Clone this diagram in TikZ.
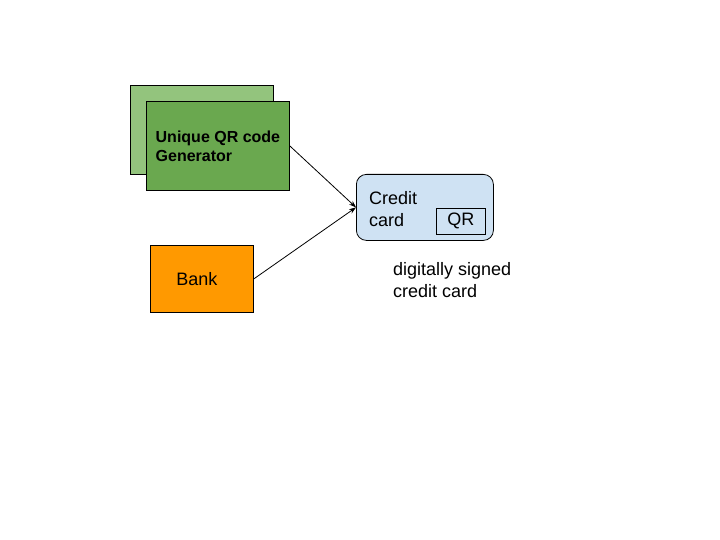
\documentclass[tikz,border=0pt]{standalone}
\usepackage{fontspec}
\setmainfont{Liberation Sans}
\usetikzlibrary{arrows.meta, positioning}
\definecolor{gengreen}{HTML}{6AA84F}
\definecolor{genlight}{HTML}{93C47D}
\definecolor{bankorange}{HTML}{FF9900}
\definecolor{cardblue}{HTML}{CFE2F3}
\tikzset{
  genbox/.style={
    rectangle, draw=black, line width=0.8pt, fill=gengreen,
    minimum width=143pt, minimum height=89pt, anchor=north west,
    align=left, font=\fontsize{16}{19}\selectfont\bfseries
  },
  bankbox/.style={
    rectangle, draw=black, line width=0.8pt, fill=bankorange,
    minimum width=103pt, minimum height=67pt, anchor=north west,
    font=\fontsize{18}{22}\selectfont
  },
  cardbox/.style={
    rectangle, rounded corners=10pt, draw=black, line width=0.8pt, fill=cardblue,
    minimum width=137pt, minimum height=66pt, anchor=north west
  },
  qrbox/.style={
    rectangle, draw=black, line width=0.8pt,
    minimum width=49pt, minimum height=26pt, anchor=north west,
    inner sep=0pt, font=\fontsize{18}{22}\selectfont
  },
  plain/.style={align=left, inner sep=0pt, font=\fontsize{18}{22}\selectfont},
  arrow/.style={-{Stealth[length=7pt, width=5pt]}, line width=0.8pt}
}
\begin{document}
\begin{tikzpicture}[x=1pt, y=-1pt]
\useasboundingbox (0,0) rectangle (720,540);
\node[genbox, fill=genlight] (genback) at (130,85) {};
\node[genbox] (gen) at (146,101) {Unique QR code\\Generator};
\node[bankbox, text width=83pt] (bank) at (150,245) {\hspace*{16pt}Bank};
\node[cardbox] (card) at (356,174) {};
\node[plain, anchor=north west] (cardtxt) at (369,191) {Credit\\card};
\node[qrbox] (qr) at (436,208) {QR};
\node[plain, anchor=north west] (signed) at (393,262) {digitally signed\\credit card};
\draw[arrow] (gen.east) -- (card.west);
\draw[arrow] (bank.east) -- (card.west);
\end{tikzpicture}
\end{document}
